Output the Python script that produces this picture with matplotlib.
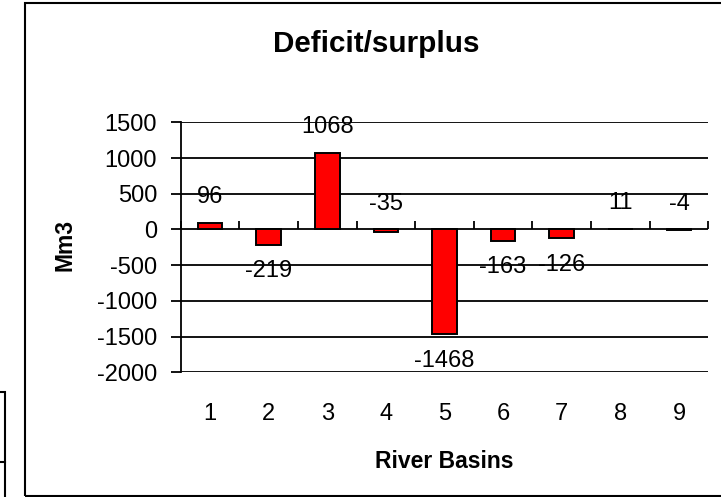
import numpy as np
import matplotlib.pyplot as plt
from matplotlib.patches import Rectangle
from matplotlib.lines import Line2D

basins = [1, 2, 3, 4, 5, 6, 7, 8, 9]
balance = [96, -219, 1068, -35, -1468, -163, -126, 11, -4]
label_side = ['above', 'below', 'above', 'above', 'below', 'below', 'below', 'above', 'above']
yticks = [-2000, -1500, -1000, -500, 0, 500, 1000, 1500]

plt.rcParams['font.family'] = ['Liberation Sans', 'DejaVu Sans']
plt.rcParams['axes.unicode_minus'] = False

fig = plt.figure(figsize=(7.21, 4.97), dpi=100, facecolor='w')
ax = fig.add_axes([180.7 / 721, 1 - 372.3 / 497, (708.3 - 180.7) / 721, 250 / 497])

x = np.arange(len(basins)) + 1
ax.bar(x, balance, width=0.42, color='red', edgecolor='black', linewidth=1.4, zorder=5)

for xi, v, side in zip(x, balance, label_side):
    if side == 'above':
        ax.annotate(str(v), (xi, max(v, 0)), xytext=(0, 18.5), textcoords='offset points',
                    ha='center', va='center', fontsize=17, zorder=6)
    else:
        ax.annotate(str(v), (xi, v), xytext=(0, -19), textcoords='offset points',
                    ha='center', va='center', fontsize=17, zorder=6)

ax.set_xlim(0.5, 9.5)
ax.set_ylim(-2000, 1500)
ax.set_yticks(yticks)
ax.set_xticks(x)
ax.set_xticklabels([str(b) for b in basins])
ax.grid(axis='y', color='black', linewidth=1.3, zorder=0)
ax.set_axisbelow(True)
for s in ['top', 'right', 'bottom']:
    ax.spines[s].set_visible(False)
ax.spines['left'].set_linewidth(1.3)
ax.tick_params(axis='y', direction='out', length=7, width=1.3, pad=10, labelsize=17)
ax.tick_params(axis='x', length=0, pad=22, labelsize=17)

# category axis crossing at zero
sec = ax.secondary_xaxis(2000 / 3500)
sec.set_xticks(np.arange(0.5, 10, 1))
sec.tick_params(direction='out', length=6, width=1.3, labelbottom=False, labeltop=False)
sec.spines['bottom'].set_linewidth(1.3)
sec.spines['top'].set_visible(False)
sec.set_zorder(1)

fig.text(444 / 721, 1 - 461 / 497, 'River Basins', ha='center', va='center',
         fontsize=16.5, fontweight='bold')
fig.text(65 / 721, 1 - 245 / 497, 'Mm3', ha='center', va='center', rotation=90,
         fontsize=16.5, fontweight='bold')
fig.text(376.5 / 721, 1 - 44 / 497, 'Deficit/surplus', ha='center', va='center',
         fontsize=21.3, fontweight='bold')

# chart area border
fig.patches.append(Rectangle((25 / 721, 1 / 497), 1.2, 493 / 497, transform=fig.transFigure,
                             fill=False, edgecolor='black', linewidth=1.5))
# edge of a neighbouring box
fig.patches.append(Rectangle((-10 / 721, 1 - 462 / 497), 15 / 721, 70 / 497, transform=fig.transFigure,
                             fill=False, edgecolor='black', linewidth=1.5))
fig.lines.append(Line2D([5 / 721, 5 / 721], [-0.01, 1 - 462 / 497], transform=fig.transFigure,
                        color='black', linewidth=1.5))

plt.savefig('out.png', dpi=100)
